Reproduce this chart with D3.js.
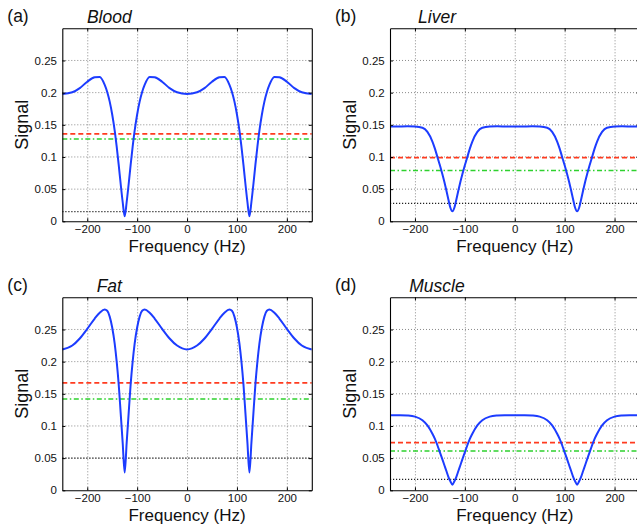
<!DOCTYPE html>
<html>
<head>
<meta charset="utf-8">
<script src="https://cdn.jsdelivr.net/npm/d3@7"></script>
<style>
    html, body { margin: 0; padding: 0; background: #fff; }
    svg { display: block; font-family: "Liberation Sans", Arial, Helvetica, sans-serif; }
</style>
</head>
<body>
<svg id="chart" width="637" height="527"></svg>
<script>
// frequency samples (Hz), shared by all four tissues
const freqHz = [-250, -230, -215, -200, -185, -175, -165, -160, -155, -150, -145, -141, -137, -133, -129,
    -125, -121, -117, -113, -109, -105, -100, -95, -90, -85, -75, -65, -50, -35, -20,
    0, 20, 35, 50, 65, 75, 85, 90, 95, 100, 105, 109, 113, 117, 121,
    125, 129, 133, 137, 141, 145, 150, 155, 160, 165, 175, 185, 200, 215, 230, 250];

const bloodSignal = [0.198, 0.2005, 0.207, 0.217, 0.2238, 0.2243, 0.212, 0.201, 0.186, 0.166, 0.141, 0.116, 0.088, 0.058, 0.030,
    0.008, 0.030, 0.058, 0.088, 0.116, 0.141, 0.166, 0.186, 0.201, 0.212, 0.2243, 0.2238, 0.217, 0.207, 0.2005,
    0.198, 0.2005, 0.207, 0.217, 0.2238, 0.2243, 0.212, 0.201, 0.186, 0.166, 0.141, 0.116, 0.088, 0.058, 0.030,
    0.008, 0.030, 0.058, 0.088, 0.116, 0.141, 0.166, 0.186, 0.201, 0.212, 0.2243, 0.2238, 0.217, 0.207, 0.2005, 0.198];

const liverSignal = [0.1473, 0.1475, 0.1476, 0.1473, 0.1455, 0.139, 0.124, 0.113, 0.100, 0.087, 0.073, 0.061, 0.048, 0.034, 0.021,
    0.0155, 0.021, 0.034, 0.048, 0.061, 0.073, 0.087, 0.100, 0.113, 0.124, 0.139, 0.1455, 0.1473, 0.1476, 0.1475,
    0.1473, 0.1475, 0.1476, 0.1473, 0.1455, 0.139, 0.124, 0.113, 0.100, 0.087, 0.073, 0.061, 0.048, 0.034, 0.021,
    0.0155, 0.021, 0.034, 0.048, 0.061, 0.073, 0.087, 0.100, 0.113, 0.124, 0.139, 0.1455, 0.1473, 0.1476, 0.1475, 0.1473];

const fatSignal = [0.219, 0.225, 0.236, 0.251, 0.267, 0.276, 0.281, 0.279, 0.270, 0.253, 0.228, 0.200, 0.165, 0.120, 0.074,
    0.0275, 0.074, 0.120, 0.165, 0.200, 0.228, 0.253, 0.270, 0.279, 0.281, 0.276, 0.267, 0.251, 0.236, 0.225,
    0.219, 0.225, 0.236, 0.251, 0.267, 0.276, 0.281, 0.279, 0.270, 0.253, 0.228, 0.200, 0.165, 0.120, 0.074,
    0.0275, 0.074, 0.120, 0.165, 0.200, 0.228, 0.253, 0.270, 0.279, 0.281, 0.276, 0.267, 0.251, 0.236, 0.225, 0.219];

const muscleSignal = [0.1168, 0.1167, 0.1162, 0.1145, 0.109, 0.101, 0.088, 0.080, 0.070, 0.059, 0.048, 0.039, 0.030, 0.021, 0.014,
    0.0088, 0.014, 0.021, 0.030, 0.039, 0.048, 0.059, 0.070, 0.080, 0.088, 0.101, 0.109, 0.1145, 0.1162, 0.1167,
    0.1168, 0.1167, 0.1162, 0.1145, 0.109, 0.101, 0.088, 0.080, 0.070, 0.059, 0.048, 0.039, 0.030, 0.021, 0.014,
    0.0088, 0.014, 0.021, 0.030, 0.039, 0.048, 0.059, 0.070, 0.080, 0.088, 0.101, 0.109, 0.1145, 0.1162, 0.1167, 0.1168];

const panelLabels = ["(a)", "(b)", "(c)", "(d)"];
const tissueNames = ["Blood", "Liver", "Fat", "Muscle"];
const redLevels = [0.136, 0.099, 0.167, 0.074];
const greenLevels = [0.128, 0.079, 0.142, 0.061];
const blackLevels = [0.015, 0.028, 0.05, 0.017];
const xTicks = [-200, -100, 0, 100, 200];
const yTicks = [0, 0.05, 0.1, 0.15, 0.2, 0.25];

const signals = [bloodSignal, liverSignal, fatSignal, muscleSignal];
const origins = [[62.3, 28.3], [390, 28.3], [62.3, 297.3], [390, 297.3]];

const plotW = 249.5;
const plotH = 193;
const svg = d3.select("#chart");

const x = d3.scaleLinear().domain([-250, 250]).range([0, plotW]);
const y = d3.scaleLinear().domain([0, 0.3]).range([plotH, 0]);

const line = d3.line()
    .x(d => x(d[0]))
    .y(d => y(d[1]))
    .curve(d3.curveMonotoneX);

function hLine(g, level, color, width, dash) {
    g.append("line")
        .attr("x1", 0)
        .attr("x2", plotW)
        .attr("y1", y(level))
        .attr("y2", y(level))
        .attr("stroke", color)
        .attr("stroke-width", width)
        .attr("stroke-dasharray", dash);
}

signals.forEach((sig, i) => {
    const [left, top] = origins[i];
    const g = svg.append("g").attr("transform", `translate(${left},${top})`);

    g.append("clipPath")
        .attr("id", `clip${i}`)
        .append("rect")
        .attr("width", plotW)
        .attr("height", plotH);

    // dotted grid
    const grid = g.append("g")
        .attr("stroke", "#8a8a8a")
        .attr("stroke-width", 1)
        .attr("stroke-dasharray", "1,2");
    grid.selectAll("line.gx")
        .data(xTicks)
        .join("line")
        .attr("class", "gx")
        .attr("x1", d => x(d) + 0.5)
        .attr("x2", d => x(d) + 0.5)
        .attr("y1", 0)
        .attr("y2", plotH);
    grid.selectAll("line.gy")
        .data(yTicks.filter(t => t > 0))
        .join("line")
        .attr("class", "gy")
        .attr("x1", 0)
        .attr("x2", plotW)
        .attr("y1", d => y(d))
        .attr("y2", d => y(d));

    const marks = g.append("g").attr("clip-path", `url(#clip${i})`);
    hLine(marks, blackLevels[i], "#222", 1.2, "1.2,1.8");
    hLine(marks, redLevels[i], "#ff3b1f", 1.7, "5,3");
    hLine(marks, greenLevels[i], "#2ed12e", 1.6, "5,2.5,1.5,2.5");

    marks.append("path")
        .datum(freqHz.map((f, k) => [f, sig[k]]))
        .attr("d", line)
        .attr("fill", "none")
        .attr("stroke", "#1c3cff")
        .attr("stroke-width", 2);

    // axes (MATLAB-style inward ticks on all sides)
    const fmtX = d3.format("d");
    const bottom = g.append("g")
        .attr("transform", `translate(0,${plotH})`)
        .call(d3.axisBottom(x).tickValues(xTicks).tickSizeInner(-3).tickSizeOuter(0).tickPadding(4).tickFormat(fmtX));
    const leftAx = g.append("g")
        .call(d3.axisLeft(y).tickValues(yTicks).tickSizeInner(-3).tickSizeOuter(0).tickPadding(5.3)
            .tickFormat(d => String(+d.toFixed(2))));
    const topAx = g.append("g")
        .call(d3.axisTop(x).tickValues(xTicks).tickSizeInner(-3).tickSizeOuter(0).tickFormat(""));
    const rightAx = g.append("g")
        .attr("transform", `translate(${plotW},0)`)
        .call(d3.axisRight(y).tickValues(yTicks).tickSizeInner(-3).tickSizeOuter(0).tickFormat(""));

    [bottom, leftAx, topAx, rightAx].forEach(ax => {
        ax.attr("font-family", null).attr("font-size", 11.5);
        ax.select(".domain").attr("stroke", "#000").attr("stroke-width", 1.1);
        ax.selectAll(".tick line").attr("stroke", "#000");
        ax.selectAll(".tick text").attr("fill", "#111");
    });

    g.append("text")
        .attr("x", -55)
        .attr("y", -6)
        .attr("font-size", 17.5)
        .attr("fill", "#111")
        .text(panelLabels[i]);

    g.append("text")
        .attr("x", 47)
        .attr("y", -5.5)
        .attr("text-anchor", "middle")
        .attr("font-size", 17.5)
        .attr("font-style", "italic")
        .attr("fill", "#111")
        .text(tissueNames[i]);

    g.append("text")
        .attr("transform", `translate(-34.3,${plotH / 2}) rotate(-90)`)
        .attr("text-anchor", "middle")
        .attr("font-size", 18)
        .attr("fill", "#111")
        .text("Signal");

    g.append("text")
        .attr("x", plotW / 2)
        .attr("y", plotH + 30.5)
        .attr("text-anchor", "middle")
        .attr("font-size", 17)
        .attr("fill", "#111")
        .text("Frequency (Hz)");
});
</script>
</body>
</html>
